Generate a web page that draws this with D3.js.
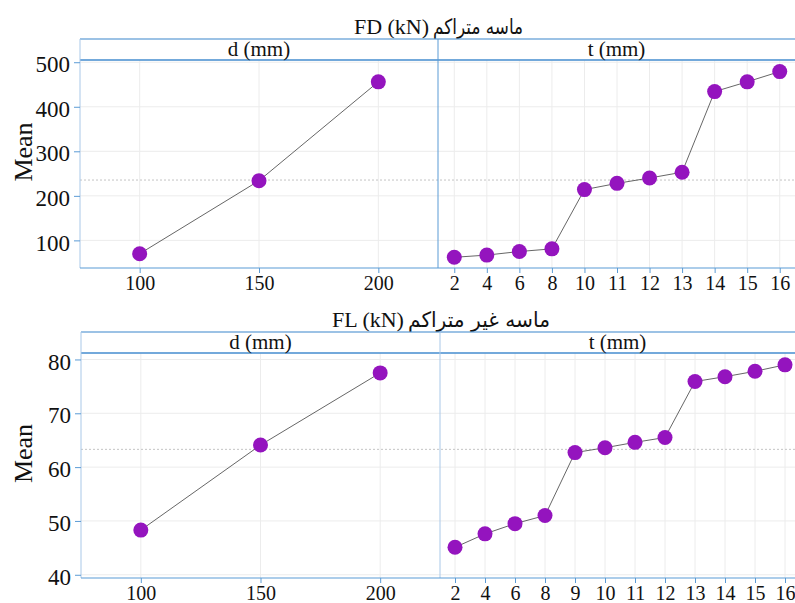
<!DOCTYPE html>
<html>
<head>
<meta charset="utf-8">
<script src="https://cdn.jsdelivr.net/npm/d3@7"></script>
<style>
  body { margin: 0; background: #fff; }
  text { font-family: "Liberation Serif", "Times New Roman", serif; fill: #111; }
</style>
</head>
<body>
<svg id="chart" width="795" height="603"></svg>
<script>
// main effects, FD (dense sand)
var dLevels = [100, 150, 200];
var fdDMeans = [70, 234, 456];
var fdTLevels = ["2", "4", "6", "8", "10", "11", "12", "13", "14", "15", "16"];
var fdTMeans = [62, 67, 75, 81, 214, 228, 240, 253, 434, 456, 479];
var fdGrand = 235.5;
var fdTicks = [100, 200, 300, 400, 500];

// main effects, FL (loose sand)
var flDMeans = [48.3, 64.1, 77.5];
var flTLevels = ["2", "4", "6", "8", "9", "10", "11", "12", "13", "14", "15", "16"];
var flTMeans = [45.1, 47.6, 49.5, 51.0, 62.7, 63.6, 64.6, 65.5, 75.9, 76.8, 77.8, 79.0];
var flGrand = 63.3;
var flTicks = [40, 50, 60, 70, 80];

var svg = d3.select("#chart");

var blue = "#5b9bd5", lightBlue = "#a9c8e8", grid = "#ececec", dotColor = "#9414be";

// latin part in serif, persian part squeezed to the width seen in the picture
function drawTitle(g, latin, persian, persianWidth, cx, baseline) {
  var t1 = g.append("text").attr("y", baseline).style("font-size", "22px").text(latin);
  var t2 = g.append("text").attr("y", baseline)
    .style("font-family", "'DejaVu Sans', sans-serif").style("font-size", "21px")
    .attr("textLength", persianWidth).attr("lengthAdjust", "spacingAndGlyphs")
    .text(persian);
  var w1 = t1.node().getComputedTextLength();
  var gap = 4;
  var x0 = cx - (w1 + gap + persianWidth) / 2;
  t1.attr("x", x0);
  t2.attr("x", x0 + w1 + gap);
}

function drawChart(c) {
  var g = svg.append("g");
  var y = d3.scaleLinear().domain(c.yDomain).range([c.bottom, c.stripBottom]);
  var xd = d3.scaleLinear().domain([75, 225]).range([c.left, c.sep]);
  var xt = d3.scalePoint().domain(c.tLevels).range([c.sep, c.right]).padding(0.5);

  drawTitle(g, c.title, c.titleFa, c.titleFaWidth, c.titleX, c.stripTop - 5);

  // gridlines
  g.append("g").selectAll("line").data(c.yTicks).join("line")
    .attr("x1", c.left).attr("x2", 795)
    .attr("y1", function(d) { return y(d); }).attr("y2", function(d) { return y(d); })
    .attr("stroke", grid).attr("stroke-width", 1);
  g.append("g").selectAll("line").data(dLevels).join("line")
    .attr("x1", function(d) { return xd(d); }).attr("x2", function(d) { return xd(d); })
    .attr("y1", c.stripBottom).attr("y2", c.bottom)
    .attr("stroke", grid);
  g.append("g").selectAll("line").data(c.tLevels).join("line")
    .attr("x1", function(d) { return xt(d); }).attr("x2", function(d) { return xt(d); })
    .attr("y1", c.stripBottom).attr("y2", c.bottom)
    .attr("stroke", grid);

  // grand mean reference
  g.append("line").attr("x1", c.left).attr("x2", 795)
    .attr("y1", y(c.grand)).attr("y2", y(c.grand))
    .attr("stroke", "#c4c4c4").attr("stroke-dasharray", "2,2");

  // strip header
  g.append("line").attr("x1", c.left).attr("x2", 795).attr("y1", c.stripTop).attr("y2", c.stripTop)
    .attr("stroke", blue).attr("stroke-width", 1.5).attr("opacity", 0.8);
  g.append("line").attr("x1", c.left).attr("x2", 795).attr("y1", c.stripBottom).attr("y2", c.stripBottom)
    .attr("stroke", blue).attr("stroke-width", 2).attr("opacity", 0.85);
  g.append("text").attr("x", (c.left + c.sep) / 2).attr("y", c.stripBottom - 4)
    .attr("text-anchor", "middle").style("font-size", "21px").text("d (mm)");
  g.append("text").attr("x", (c.sep + 795) / 2).attr("y", c.stripBottom - 4)
    .attr("text-anchor", "middle").style("font-size", "21px").text("t (mm)");

  // frame lines
  g.append("line").attr("x1", c.left).attr("x2", c.left).attr("y1", c.stripTop).attr("y2", c.bottom)
    .attr("stroke", lightBlue);
  g.append("line").attr("x1", c.sep).attr("x2", c.sep).attr("y1", c.stripTop).attr("y2", c.bottom)
    .attr("stroke", c.sepColor);

  // y axis
  var ya = g.append("g").attr("transform", "translate(" + c.left + ",0)")
    .call(d3.axisLeft(y).tickValues(c.yTicks).tickSize(6).tickPadding(4));
  ya.select(".domain").remove();
  ya.selectAll(".tick line").attr("stroke", blue);
  ya.selectAll(".tick text").style("font-size", "23px").attr("dy", "0.42em").attr("fill", "#111");

  // x axes
  var xa1 = g.append("g").attr("transform", "translate(0," + c.bottom + ")")
    .call(d3.axisBottom(xd).tickValues(dLevels).tickSize(5).tickPadding(3));
  var xa2 = g.append("g").attr("transform", "translate(0," + c.bottom + ")")
    .call(d3.axisBottom(xt).tickSize(5).tickPadding(3));
  [xa1, xa2].forEach(function(a) {
    a.select(".domain").remove();
    a.selectAll(".tick line").attr("stroke", blue);
    a.selectAll(".tick text").style("font-size", "20px").attr("fill", "#111");
  });
  g.append("line").attr("x1", c.left).attr("x2", 795).attr("y1", c.bottom).attr("y2", c.bottom)
    .attr("stroke", blue).attr("stroke-width", 1.2);

  // y label
  g.append("text")
    .attr("transform", "translate(32," + ((c.stripBottom + c.bottom) / 2 - 12) + ") rotate(-90)")
    .attr("text-anchor", "middle").style("font-size", "26px").text("Mean");

  // series
  var dPts = dLevels.map(function(d, i) { return [xd(d), y(c.dMeans[i])]; });
  var tPts = c.tLevels.map(function(d, i) { return [xt(d), y(c.tMeans[i])]; });
  [dPts, tPts].forEach(function(pts) {
    g.append("path").attr("d", d3.line()(pts)).attr("fill", "none")
      .attr("stroke", "#555").attr("stroke-width", 0.9);
    g.append("g").selectAll("circle").data(pts).join("circle")
      .attr("cx", function(p) { return p[0]; }).attr("cy", function(p) { return p[1]; })
      .attr("r", 7.5).attr("fill", dotColor);
  });
}

drawChart({
  title: "FD (kN)", titleFa: "ماسه متراکم", titleFaWidth: 90, titleX: 438.5,
  stripTop: 39, stripBottom: 60, bottom: 268,
  left: 80, sep: 438, right: 796,
  yDomain: [38, 505], yTicks: fdTicks,
  dMeans: fdDMeans, tLevels: fdTLevels, tMeans: fdTMeans, grand: fdGrand,
  sepColor: blue
});

drawChart({
  title: "FL (kN)", titleFa: "ماسه غیر متراکم", titleFaWidth: 142, titleX: 441,
  stripTop: 332, stripBottom: 353, bottom: 578,
  left: 81, sep: 440, right: 800,
  yDomain: [39.4, 81.2], yTicks: flTicks,
  dMeans: flDMeans, tLevels: flTLevels, tMeans: flTMeans, grand: flGrand,
  sepColor: lightBlue
});
</script>
</body>
</html>
